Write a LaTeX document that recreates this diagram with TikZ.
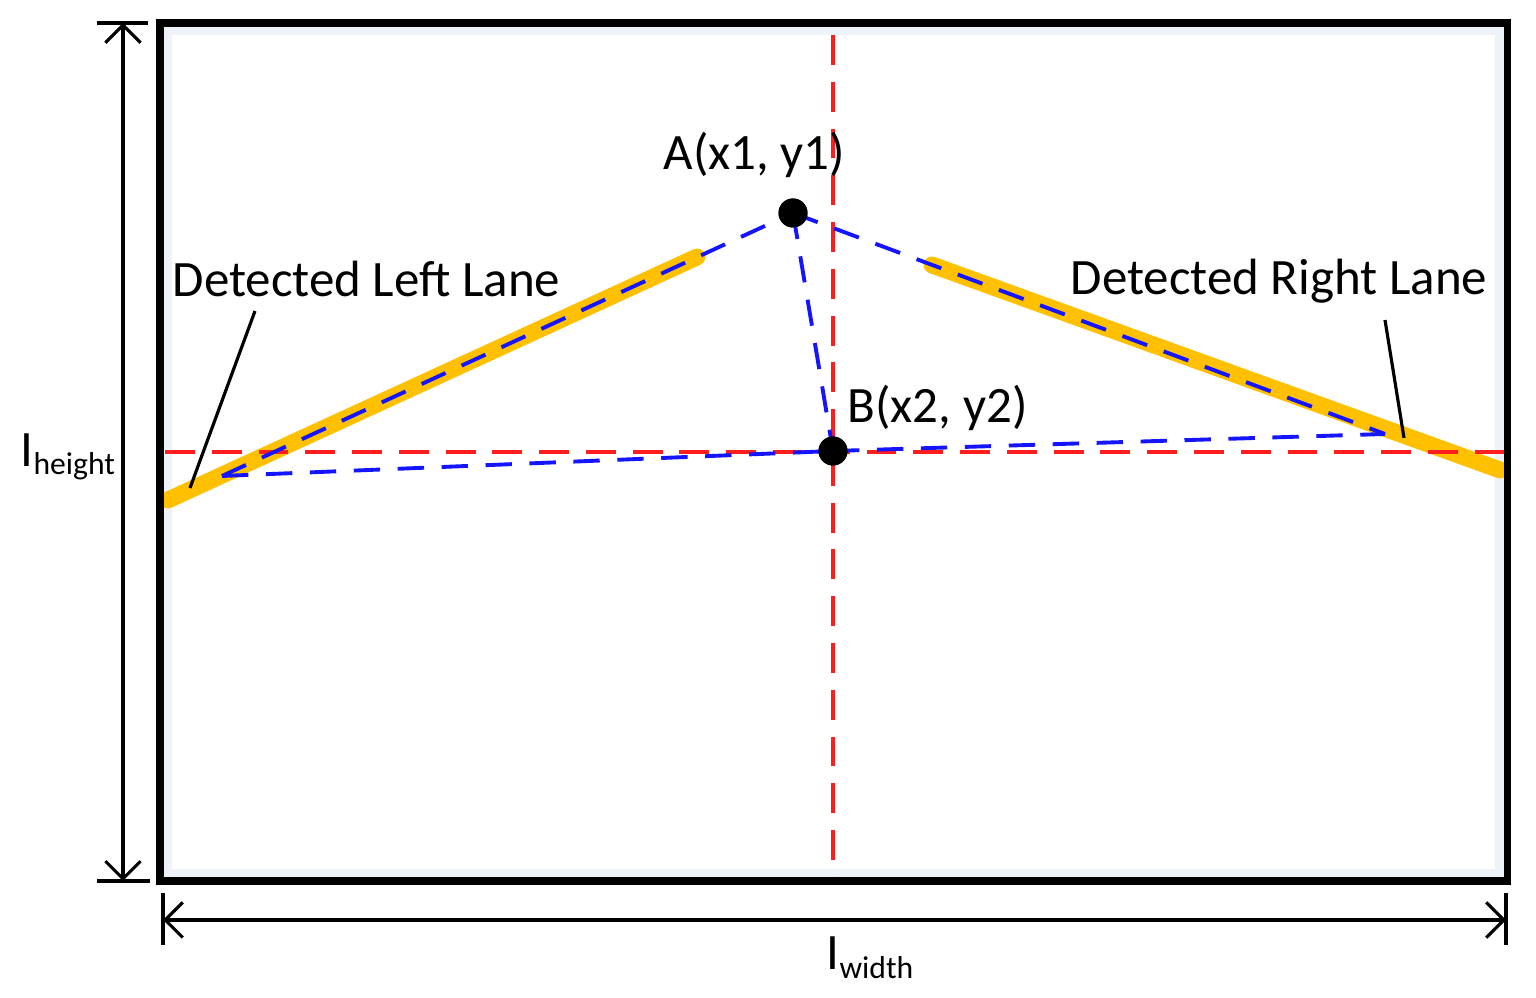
\documentclass[tikz,border=0pt]{standalone}
\usepackage{fontspec}
\setmainfont{Carlito}
\usetikzlibrary{arrows.meta}
\definecolor{lanegold}{HTML}{FFC000}
\definecolor{guidered}{HTML}{FF1E1E}
\definecolor{vpblue}{HTML}{1414FF}
\definecolor{haze}{HTML}{EEF3FA}
\begin{document}
\begin{tikzpicture}[x=0.01cm,y=-0.01cm,
  lbl/.style={inner sep=0pt, anchor=base west, font=\fontsize{14.5}{17}\selectfont},
  dimline/.style={line width=0.9pt, black},
  dimarrow/.style={dimline, {Straight Barb[length=5pt,width=10pt,line width=0.9pt]}-{Straight Barb[length=5pt,width=10pt,line width=0.9pt]}},
  frameline/.style={line width=2pt, black},
  lane/.style={line width=4.8pt, lanegold, line cap=round},
  guide/.style={line width=1pt, guidered, dash pattern=on 8.5pt off 4.8pt},
  vpline/.style={line width=1.1pt, vpblue, dash pattern=on 7.5pt off 5pt},
  leader/.style={line width=0.9pt, black},
  pt/.style={circle, fill=black, inner sep=0pt, minimum size=0.29cm}]
\useasboundingbox (0,0) rectangle (1536,998);

% frame corners
\coordinate (TL) at (160,23);
\coordinate (BR) at (1507,881);
\coordinate (TLi) at (167,30);
\coordinate (BRi) at (1500,874);
\draw[line width=3pt, haze] (TLi) rectangle (BRi);

% lanes
\coordinate (LL1) at (168,500);
\coordinate (LL2) at (697,257);
\coordinate (RL1) at (932,265);
\coordinate (RL2) at (1500,470);
\draw[lane] (LL1) -- (LL2);
\draw[lane] (RL1) -- (RL2);

% red guides
\coordinate (VT) at (833,35);
\coordinate (VB) at (833,880);
\coordinate (HL) at (165,452);
\coordinate (HR) at (1505,452);
\draw[guide] (VT) -- (VB);
\draw[guide] (HL) -- (HR);

% points
\node[pt] (A) at (793,213) {};
\node[pt] (B) at (833,451) {};
\coordinate (L1) at (222,476);
\coordinate (R1) at (1385,434);

% blue construction lines
\draw[vpline] (L1) -- (A.center);
\draw[vpline] (A.center) -- (R1);
\draw[vpline] (A.center) -- (B.center);
\draw[vpline] (L1) -- (B.center);
\draw[vpline] (B.center) -- (R1);
\node[pt] at (A.center) {};
\node[pt] at (B.center) {};

% frame
\draw[frameline] (TL) rectangle (BR);

% height dimension
\coordinate (HT) at (123,23);
\coordinate (HB) at (123,881);
\coordinate (HT1) at (97,23);
\coordinate (HT2) at (148,23);
\coordinate (HB1) at (97,881);
\coordinate (HB2) at (150,881);
\draw[dimline] (HT1) -- (HT2);
\draw[dimline] (HB1) -- (HB2);
\draw[dimarrow] (HT) -- (HB);

% width dimension
\coordinate (WL) at (163,920);
\coordinate (WR) at (1506,920);
\coordinate (WL1) at (163,893);
\coordinate (WL2) at (163,945);
\coordinate (WR1) at (1506,893);
\coordinate (WR2) at (1506,945);
\draw[dimline] (WL1) -- (WL2);
\draw[dimline] (WR1) -- (WR2);
\draw[dimarrow] (WL) -- (WR);

% leaders
\coordinate (LLa) at (255,311);
\coordinate (LLb) at (190,488);
\coordinate (RLa) at (1385,320);
\coordinate (RLb) at (1404,438);
\draw[leader] (LLa) -- (LLb);
\draw[leader] (RLa) -- (RLb);

% labels
\node[lbl] (labA) at (663,170) {A(x1, y1)};
\node[lbl] (labB) at (847,423) {B(x2, y2)};
\node[lbl] (labL) at (172,297) {Detected Left Lane};
\node[lbl] (labR) at (1070,295) {Detected Right Lane};
\node[lbl] (labH) at (20,467) {I\raisebox{-2pt}{\fontsize{9}{10}\selectfont height}};
\node[lbl] (labW) at (826,970) {I\raisebox{-2.3pt}{\fontsize{9}{10}\selectfont width}};
\end{tikzpicture}
\end{document}
